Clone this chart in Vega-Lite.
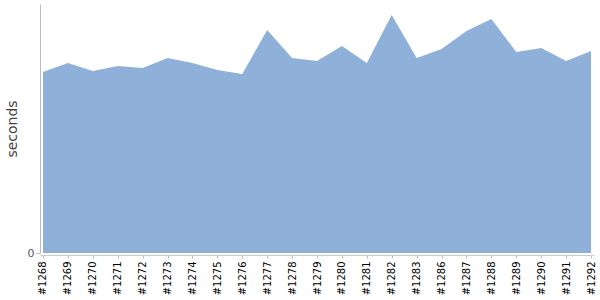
{
  "$schema": "https://vega.github.io/schema/vega-lite/v6.json",
  "width": 554,
  "height": 249,
  "autosize": {"type": "none"},
  "padding": {"left": 40, "top": 4, "right": 6, "bottom": 47},
  "config": {"view": {"stroke": null}, "font": "DejaVu Sans"},
  "data": {"values": [
    {"build": "#1268", "seconds": 181},
    {"build": "#1269", "seconds": 190},
    {"build": "#1270", "seconds": 182},
    {"build": "#1271", "seconds": 187},
    {"build": "#1272", "seconds": 185},
    {"build": "#1273", "seconds": 195},
    {"build": "#1274", "seconds": 190},
    {"build": "#1275", "seconds": 183},
    {"build": "#1276", "seconds": 179},
    {"build": "#1277", "seconds": 223},
    {"build": "#1278", "seconds": 195},
    {"build": "#1279", "seconds": 192},
    {"build": "#1280", "seconds": 207},
    {"build": "#1281", "seconds": 190},
    {"build": "#1282", "seconds": 238},
    {"build": "#1283", "seconds": 195},
    {"build": "#1286", "seconds": 204},
    {"build": "#1287", "seconds": 222},
    {"build": "#1288", "seconds": 234},
    {"build": "#1289", "seconds": 201},
    {"build": "#1290", "seconds": 205},
    {"build": "#1291", "seconds": 192},
    {"build": "#1292", "seconds": 202}
  ]},
  "mark": {"type": "area", "color": "#8fb1d9", "opacity": 1},
  "encoding": {
    "x": {
      "field": "build", "type": "ordinal",
      "scale": {"type": "point", "padding": 0.12},
      "axis": {
        "title": null, "labelAngle": -90, "labelFontSize": 10, "labelColor": "#000",
        "domainColor": "#ccc", "tickColor": "#bbb", "tickSize": 3, "offset": 2,
        "labelPadding": 3, "grid": false
      }
    },
    "y": {
      "field": "seconds", "type": "quantitative",
      "scale": {"domain": [0, 249], "nice": false},
      "axis": {
        "title": "seconds", "titleFontSize": 14, "titleFontWeight": "normal", "titleColor": "#444",
        "titlePadding": 8,
        "values": [0], "labelFontSize": 11, "labelColor": "#555",
        "domainColor": "#bbb", "tickColor": "#bbb", "tickSize": 4, "grid": false
      }
    }
  }
}
